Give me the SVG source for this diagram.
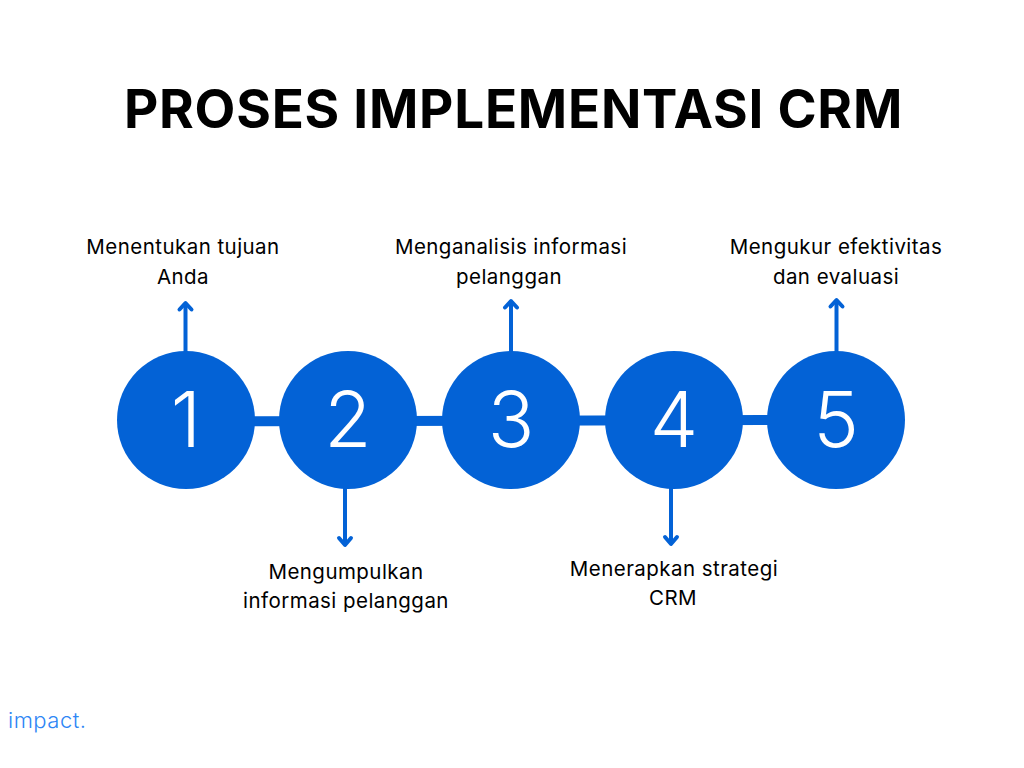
<svg xmlns="http://www.w3.org/2000/svg" width="1024" height="768" viewBox="0 0 1024 768">
<defs><style>
text{font-family:"Inter","Liberation Sans",sans-serif}
.t{font-size:20.5px;letter-spacing:.45px;text-anchor:middle;fill:#000}
.n{font-size:77px;fill:#fff;text-anchor:middle;font-weight:300}
.c{fill:#0362d6}
.l{stroke:#0362d6;stroke-width:4;fill:none}
.h{stroke:#0362d6;stroke-width:4;fill:none;stroke-linecap:round;stroke-linejoin:round}
</style></defs>
<rect width="1024" height="768" fill="#fff"/>
<text id="title" x="513.5" y="127.5" text-anchor="middle" style="font-size:53px;font-weight:700;letter-spacing:.75px;fill:#000">PROSES IMPLEMENTASI CRM</text>
<g id="connectors">
<path d="M250 421.3L790 420" stroke="#0362d6" stroke-width="10" fill="none"/>
<path class="l" d="M185.5 352V304"/><path class="h" d="M179.5 309.5L185.5 303L191.5 309.5"/>
<path class="l" d="M345 487V545"/><path class="h" d="M339 538L345 545L351 538"/>
<path class="l" d="M511 352V301"/><path class="h" d="M505 307.5L511 301L517 307.5"/>
<path class="l" d="M671 487V544"/><path class="h" d="M665 537L671 544L677 537"/>
<path class="l" d="M836.5 352V300"/><path class="h" d="M830.5 306.5L836.5 300L842.5 306.5"/>
</g>
<g id="node1"><circle class="c" cx="186" cy="420" r="69"/><text class="n" x="186" y="447">1</text><text class="t" x="183" y="254">Menentukan tujuan</text><text class="t" x="183" y="284">Anda</text></g>
<g id="node2"><circle class="c" cx="348" cy="420" r="69"/><text class="n" x="348" y="447">2</text><text class="t" x="346" y="579">Mengumpulkan</text><text class="t" x="346" y="608">informasi pelanggan</text></g>
<g id="node3"><circle class="c" cx="511" cy="420" r="69"/><text class="n" x="511" y="447">3</text><text class="t" x="511" y="254">Menganalisis informasi</text><text class="t" x="509" y="284">pelanggan</text></g>
<g id="node4"><circle class="c" cx="674" cy="420" r="69"/><text class="n" x="674" y="447">4</text><text class="t" x="674" y="576">Menerapkan strategi</text><text class="t" x="673" y="605">CRM</text></g>
<g id="node5"><circle class="c" cx="836" cy="420" r="69"/><text class="n" x="836" y="447">5</text><text class="t" x="836" y="254">Mengukur efektivitas</text><text class="t" x="836" y="284">dan evaluasi</text></g>
<text id="logo" x="8" y="728" style="font-size:22px;fill:#2e86f5;letter-spacing:.5px;font-weight:300">impact.</text>
</svg>
